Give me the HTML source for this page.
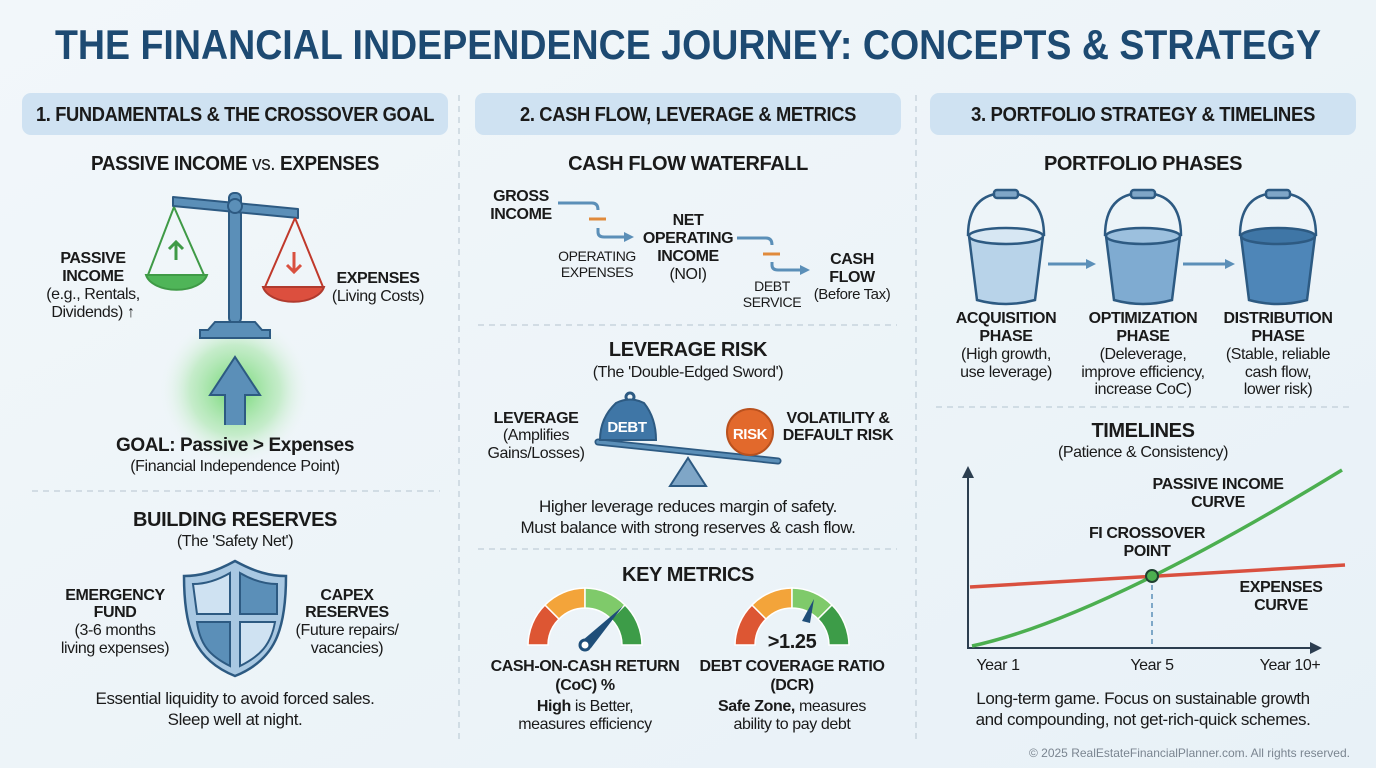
<!DOCTYPE html>
<html><head><meta charset="utf-8"><style>
html,body{margin:0;padding:0;width:1376px;height:768px;overflow:hidden;background:#eef4f8}
svg{display:block}
text{font-family:"Liberation Sans Narrow","Liberation Sans",sans-serif;fill:#1a1a1a;letter-spacing:-0.4px}
.b{font-weight:bold}
.h{font-size:20px;font-weight:bold;text-anchor:middle}
.s{font-size:16px;text-anchor:middle}
.m{text-anchor:middle}
</style></head><body>
<svg width="1376" height="768" viewBox="0 0 1376 768" xmlns="http://www.w3.org/2000/svg">
<defs>
<linearGradient id="bg" x1="0" y1="0" x2="1" y2="1"><stop offset="0" stop-color="#f2f7fa"/><stop offset="1" stop-color="#e8f1f7"/></linearGradient>
<radialGradient id="glow"><stop offset="0" stop-color="#5fd35f" stop-opacity="0.9"/><stop offset="0.6" stop-color="#9be39b" stop-opacity="0.5"/><stop offset="1" stop-color="#e8f4ee" stop-opacity="0"/></radialGradient>
<marker id="ar" markerWidth="10" markerHeight="10" refX="6" refY="5" orient="auto" markerUnits="userSpaceOnUse"><path d="M0,0 L10,5 L0,10 z" fill="#5b8fb8"/></marker>
<marker id="ak" markerWidth="12" markerHeight="12" refX="8" refY="6" orient="auto" markerUnits="userSpaceOnUse"><path d="M0,0 L12,6 L0,12 z" fill="#2c3e50"/></marker>
</defs>
<rect width="1376" height="768" fill="url(#bg)"/>
<text x="688" y="59" class="b m" style="font-size:42px;fill:#1d4a72;letter-spacing:0" textLength="1266" lengthAdjust="spacingAndGlyphs">THE FINANCIAL INDEPENDENCE JOURNEY: CONCEPTS &amp; STRATEGY</text>

<rect x="22" y="93" width="426" height="42" rx="9" fill="#cfe2f2"/>
<rect x="475" y="93" width="426" height="42" rx="9" fill="#cfe2f2"/>
<rect x="930" y="93" width="426" height="42" rx="9" fill="#cfe2f2"/>
<text x="235" y="121" class="b m" style="font-size:20px" textLength="398" lengthAdjust="spacingAndGlyphs">1. FUNDAMENTALS &amp; THE CROSSOVER GOAL</text>
<text x="688" y="121" class="b m" style="font-size:20px" textLength="336" lengthAdjust="spacingAndGlyphs">2. CASH FLOW, LEVERAGE &amp; METRICS</text>
<text x="1143" y="121" class="b m" style="font-size:20px" textLength="344" lengthAdjust="spacingAndGlyphs">3. PORTFOLIO STRATEGY &amp; TIMELINES</text>

<line x1="459" y1="95" x2="459" y2="740" stroke="#b5c4cf" stroke-dasharray="6,5"/>
<line x1="916" y1="95" x2="916" y2="740" stroke="#b5c4cf" stroke-dasharray="6,5"/>

<text x="235" y="170" class="h" textLength="288" lengthAdjust="spacingAndGlyphs">PASSIVE INCOME <tspan style="font-weight:normal">vs.</tspan> EXPENSES</text>
<circle cx="235" cy="390" r="75" fill="url(#glow)"/>
<g stroke="#2d5a82" stroke-width="2" fill="#5b8fb8">
<rect x="229" y="193" width="12" height="130" rx="5"/>
<path d="M173,197 L298,209 L298,218 L173,206 z" stroke-linejoin="round"/>
<circle cx="235" cy="206" r="7"/>
<path d="M215,322 L255,322 L262,330 L270,330 L270,338 L200,338 L200,330 L208,330 z"/>
</g>
<g fill="none" stroke="#3f9a46" stroke-width="2"><path d="M174,207 L148,275 M174,207 L204,275"/></g>
<path d="M146,275 L207,275 A31,18 0 0 1 146,275 z" fill="#4fb558" stroke="#3f9a46" stroke-width="2"/>
<path d="M176,260 V242 M169,249 L176,242 L183,249" stroke="#3f9a46" stroke-width="3" fill="none"/>
<g fill="none" stroke="#c0392b" stroke-width="2"><path d="M295,218 L265,287 M295,218 L323,287"/></g>
<path d="M263,287 L324,287 A31,18 0 0 1 263,287 z" fill="#dc4f3e" stroke="#b03a2e" stroke-width="2"/>
<path d="M294,252 V272 M287,265 L294,272 L301,265" stroke="#d9503f" stroke-width="3" fill="none"/>
<path d="M225,425 V395 H210 L235,357 L260,395 H245 V425" fill="#5b8fb8" stroke="#2d5a82" stroke-width="2"/>
<text x="93" y="263" class="b m" style="font-size:16px">PASSIVE</text>
<text x="93" y="281" class="b m" style="font-size:16px">INCOME</text>
<text x="93" y="299" class="s">(e.g., Rentals,</text>
<text x="93" y="317" class="s">Dividends) ↑</text>
<text x="378" y="283" class="b m" style="font-size:16px">EXPENSES</text>
<text x="378" y="301" class="s">(Living Costs)</text>
<text x="235" y="451" class="b m" style="font-size:19px">GOAL: Passive &gt; Expenses</text>
<text x="235" y="471" class="s">(Financial Independence Point)</text>
<line x1="32" y1="491" x2="440" y2="491" stroke="#b5c4cf" stroke-dasharray="6,5"/>
<text x="235" y="526" class="h">BUILDING RESERVES</text>
<text x="235" y="546" class="s">(The 'Safety Net')</text>
<path d="M235,561 C215,572 200,576 184,576 C184,630 195,660 235,676 C275,660 286,630 286,576 C270,576 255,572 235,561 z" fill="#a9c8e2" stroke="#2d5a82" stroke-width="2.5"/>
<path d="M193,584 C206,584 218,580 230,573 L230,614 L197,614 z" fill="#cfe2f2" stroke="#2d5a82" stroke-width="2"/>
<path d="M240,573 C252,580 264,584 277,584 L277,614 L240,614 z" fill="#5b8fb8" stroke="#2d5a82" stroke-width="2"/>
<path d="M197,622 L230,622 L230,666 C210,656 200,645 197,622 z" fill="#5b8fb8" stroke="#2d5a82" stroke-width="2"/>
<path d="M240,622 L275,622 C271,645 260,656 240,666 z" fill="#cfe2f2" stroke="#2d5a82" stroke-width="2"/>
<text x="115" y="600" class="b m" style="font-size:16px">EMERGENCY</text>
<text x="115" y="617" class="b m" style="font-size:16px">FUND</text>
<text x="115" y="635" class="s">(3-6 months</text>
<text x="115" y="653" class="s">living expenses)</text>
<text x="347" y="600" class="b m" style="font-size:16px">CAPEX</text>
<text x="347" y="617" class="b m" style="font-size:16px">RESERVES</text>
<text x="347" y="635" class="s">(Future repairs/</text>
<text x="347" y="653" class="s">vacancies)</text>
<text x="235" y="704" class="s" style="font-size:17px">Essential liquidity to avoid forced sales.</text>
<text x="235" y="725" class="s" style="font-size:17px">Sleep well at night.</text>

<text x="688" y="170" class="h">CASH FLOW WATERFALL</text>
<text x="521" y="201" class="b m" style="font-size:16px">GROSS</text>
<text x="521" y="219" class="b m" style="font-size:16px">INCOME</text>
<path d="M558,203 H592 Q598,203 598,210" fill="none" stroke="#5b8fb8" stroke-width="3"/>
<line x1="589" y1="219" x2="606" y2="219" stroke="#e08a3c" stroke-width="3"/>
<path d="M598,228 V232 Q598,237 604,237 H630" fill="none" stroke="#5b8fb8" stroke-width="3" marker-end="url(#ar)"/>
<text x="597" y="261" class="m" style="font-size:14px">OPERATING</text>
<text x="597" y="277" class="m" style="font-size:14px">EXPENSES</text>
<text x="688" y="225" class="b m" style="font-size:16px">NET</text>
<text x="688" y="243" class="b m" style="font-size:16px">OPERATING</text>
<text x="688" y="261" class="b m" style="font-size:16px">INCOME</text>
<text x="688" y="279" class="s">(NOI)</text>
<path d="M737,238 H766 Q772,238 772,245" fill="none" stroke="#5b8fb8" stroke-width="3"/>
<line x1="763" y1="254" x2="780" y2="254" stroke="#e08a3c" stroke-width="3"/>
<path d="M772,262 V265 Q772,270 778,270 H806" fill="none" stroke="#5b8fb8" stroke-width="3" marker-end="url(#ar)"/>
<text x="772" y="291" class="m" style="font-size:14px">DEBT</text>
<text x="772" y="307" class="m" style="font-size:14px">SERVICE</text>
<text x="852" y="264" class="b m" style="font-size:16px">CASH</text>
<text x="852" y="282" class="b m" style="font-size:16px">FLOW</text>
<text x="852" y="299" class="s" style="font-size:15px">(Before Tax)</text>
<line x1="478" y1="325" x2="897" y2="325" stroke="#b5c4cf" stroke-dasharray="6,5"/>
<text x="688" y="356" class="h">LEVERAGE RISK</text>
<text x="688" y="377" class="s">(The 'Double-Edged Sword')</text>
<path d="M670,486 L706,486 L688,458 z" fill="#7fa6c7" stroke="#2d5a82" stroke-width="2"/>
<line x1="598" y1="442" x2="778" y2="461" stroke="#2d5a82" stroke-width="7" stroke-linecap="round"/>
<line x1="598" y1="442" x2="778" y2="461" stroke="#5b8fb8" stroke-width="3.5" stroke-linecap="round"/>
<circle cx="630" cy="397" r="4" fill="none" stroke="#2d5a82" stroke-width="3"/>
<path d="M616,403 Q630,396 644,403 Q656,418 656,440 L600,440 Q600,418 616,403 z" fill="#3f76a6" stroke="#2d5a82" stroke-width="2"/>
<text x="627" y="432" class="b m" style="font-size:15px;fill:#fff">DEBT</text>
<circle cx="750" cy="432" r="23" fill="#e2692c" stroke="#b9511e" stroke-width="2"/>
<text x="750" y="439" class="b m" style="font-size:15px;fill:#fff">RISK</text>
<text x="536" y="423" class="b m" style="font-size:16px">LEVERAGE</text>
<text x="536" y="440" class="s">(Amplifies</text>
<text x="536" y="458" class="s">Gains/Losses)</text>
<text x="838" y="423" class="b m" style="font-size:16px">VOLATILITY &amp;</text>
<text x="838" y="440" class="b m" style="font-size:16px">DEFAULT RISK</text>
<text x="688" y="512" class="s" style="font-size:17px">Higher leverage reduces margin of safety.</text>
<text x="688" y="533" class="s" style="font-size:17px">Must balance with strong reserves &amp; cash flow.</text>
<line x1="478" y1="549" x2="897" y2="549" stroke="#b5c4cf" stroke-dasharray="6,5"/>
<text x="688" y="581" class="h">KEY METRICS</text>
<g stroke="#fff" stroke-width="1.5">
<path d="M528,645 A57,57 0 0 1 545,605 L559,619 A37,37 0 0 0 548,645 z" fill="#dd5633"/>
<path d="M545,605 A57,57 0 0 1 585,588 L585,608 A37,37 0 0 0 559,619 z" fill="#f3a43a"/>
<path d="M585,588 A57,57 0 0 1 625,605 L611,619 A37,37 0 0 0 585,608 z" fill="#7fca6a"/>
<path d="M625,605 A57,57 0 0 1 642,645 L622,645 A37,37 0 0 0 611,619 z" fill="#3d9c48"/>
<path d="M735,645 A57,57 0 0 1 752,605 L766,619 A37,37 0 0 0 755,645 z" fill="#dd5633"/>
<path d="M752,605 A57,57 0 0 1 792,588 L792,608 A37,37 0 0 0 766,619 z" fill="#f3a43a"/>
<path d="M792,588 A57,57 0 0 1 832,605 L818,619 A37,37 0 0 0 792,608 z" fill="#7fca6a"/>
<path d="M832,605 A57,57 0 0 1 849,645 L829,645 A37,37 0 0 0 818,619 z" fill="#3d9c48"/>
</g>
<path d="M583,640 L623,606 L591,648 z" fill="#1f4e79"/>
<circle cx="585" cy="645" r="5" fill="#fff" stroke="#1f4e79" stroke-width="3"/>
<path d="M802,621 L814,599 L810,623 z" fill="#1f4e79"/>
<text x="792" y="648" class="b m" style="font-size:20px">&gt;1.25</text>
<text x="585" y="671" class="b m" style="font-size:16px">CASH-ON-CASH RETURN</text>
<text x="585" y="690" class="b m" style="font-size:16px">(CoC) %</text>
<text x="585" y="711" class="s"><tspan class="b">High</tspan> is Better,</text>
<text x="585" y="729" class="s">measures efficiency</text>
<text x="792" y="671" class="b m" style="font-size:16px">DEBT COVERAGE RATIO</text>
<text x="792" y="690" class="b m" style="font-size:16px">(DCR)</text>
<text x="792" y="711" class="s"><tspan class="b">Safe Zone,</tspan> measures</text>
<text x="792" y="729" class="s">ability to pay debt</text>

<text x="1143" y="170" class="h">PORTFOLIO PHASES</text>
<g stroke="#2d5a82" stroke-width="2.5">
<path d="M968,236 Q968,193 1006,193 Q1044,193 1044,236" fill="none"/>
<rect x="994" y="190" width="24" height="8" rx="3" fill="#7fa6c7"/>
<path d="M969,236 L977,300 Q1006,308 1035,300 L1043,236 z" fill="#b8d3e9"/>
<ellipse cx="1006" cy="236" rx="37" ry="8" fill="#d7e7f3"/>
<path d="M1105,236 Q1105,193 1143,193 Q1181,193 1181,236" fill="none"/>
<rect x="1131" y="190" width="24" height="8" rx="3" fill="#7fa6c7"/>
<path d="M1106,236 L1114,300 Q1143,308 1172,300 L1180,236 z" fill="#7fabd1"/>
<ellipse cx="1143" cy="236" rx="37" ry="8" fill="#9cc0de"/>
<path d="M1240,236 Q1240,193 1278,193 Q1316,193 1316,236" fill="none"/>
<rect x="1266" y="190" width="24" height="8" rx="3" fill="#7fa6c7"/>
<path d="M1241,236 L1249,300 Q1278,308 1307,300 L1315,236 z" fill="#4e86b8"/>
<ellipse cx="1278" cy="236" rx="37" ry="8" fill="#3f76a6"/>
</g>
<line x1="1048" y1="264" x2="1092" y2="264" stroke="#5b8fb8" stroke-width="3" marker-end="url(#ar)"/>
<line x1="1183" y1="264" x2="1231" y2="264" stroke="#5b8fb8" stroke-width="3" marker-end="url(#ar)"/>
<text x="1006" y="323" class="b m" style="font-size:16px">ACQUISITION</text>
<text x="1006" y="341" class="b m" style="font-size:16px">PHASE</text>
<text x="1006" y="359" class="s">(High growth,</text>
<text x="1006" y="377" class="s">use leverage)</text>
<text x="1143" y="323" class="b m" style="font-size:16px">OPTIMIZATION</text>
<text x="1143" y="341" class="b m" style="font-size:16px">PHASE</text>
<text x="1143" y="359" class="s">(Deleverage,</text>
<text x="1143" y="377" class="s">improve efficiency,</text>
<text x="1143" y="394" class="s">increase CoC)</text>
<text x="1278" y="323" class="b m" style="font-size:16px">DISTRIBUTION</text>
<text x="1278" y="341" class="b m" style="font-size:16px">PHASE</text>
<text x="1278" y="359" class="s">(Stable, reliable</text>
<text x="1278" y="377" class="s">cash flow,</text>
<text x="1278" y="394" class="s">lower risk)</text>
<line x1="936" y1="407" x2="1350" y2="407" stroke="#b5c4cf" stroke-dasharray="6,5"/>
<text x="1143" y="437" class="h">TIMELINES</text>
<text x="1143" y="457" class="s">(Patience &amp; Consistency)</text>
<line x1="968" y1="649" x2="968" y2="470" stroke="#2c3e50" stroke-width="2" marker-end="url(#ak)"/>
<line x1="967" y1="648" x2="1318" y2="648" stroke="#2c3e50" stroke-width="2" marker-end="url(#ak)"/>
<line x1="970" y1="587" x2="1345" y2="565" stroke="#d9503f" stroke-width="3.5"/>
<path d="M972,646 Q1100,618 1342,470" fill="none" stroke="#4caf50" stroke-width="3.5"/>
<line x1="1152" y1="576" x2="1152" y2="648" stroke="#5b8fb8" stroke-width="1.5" stroke-dasharray="5,4"/>
<circle cx="1152" cy="576" r="6" fill="#4caf50" stroke="#1f4030" stroke-width="2"/>
<text x="998" y="670" class="s">Year 1</text>
<text x="1152" y="670" class="s">Year 5</text>
<text x="1290" y="670" class="s">Year 10+</text>
<text x="1218" y="489" class="b m" style="font-size:16px">PASSIVE INCOME</text>
<text x="1218" y="507" class="b m" style="font-size:16px">CURVE</text>
<text x="1147" y="538" class="b m" style="font-size:16px">FI CROSSOVER</text>
<text x="1147" y="556" class="b m" style="font-size:16px">POINT</text>
<text x="1281" y="592" class="b m" style="font-size:16px">EXPENSES</text>
<text x="1281" y="610" class="b m" style="font-size:16px">CURVE</text>
<text x="1143" y="704" class="s" style="font-size:17px">Long-term game. Focus on sustainable growth</text>
<text x="1143" y="725" class="s" style="font-size:17px">and compounding, not get-rich-quick schemes.</text>
<text x="1350" y="757" style="font-size:12px;fill:#7a8590;text-anchor:end;letter-spacing:0">© 2025 RealEstateFinancialPlanner.com. All rights reserved.</text>
</svg>
</body></html>
